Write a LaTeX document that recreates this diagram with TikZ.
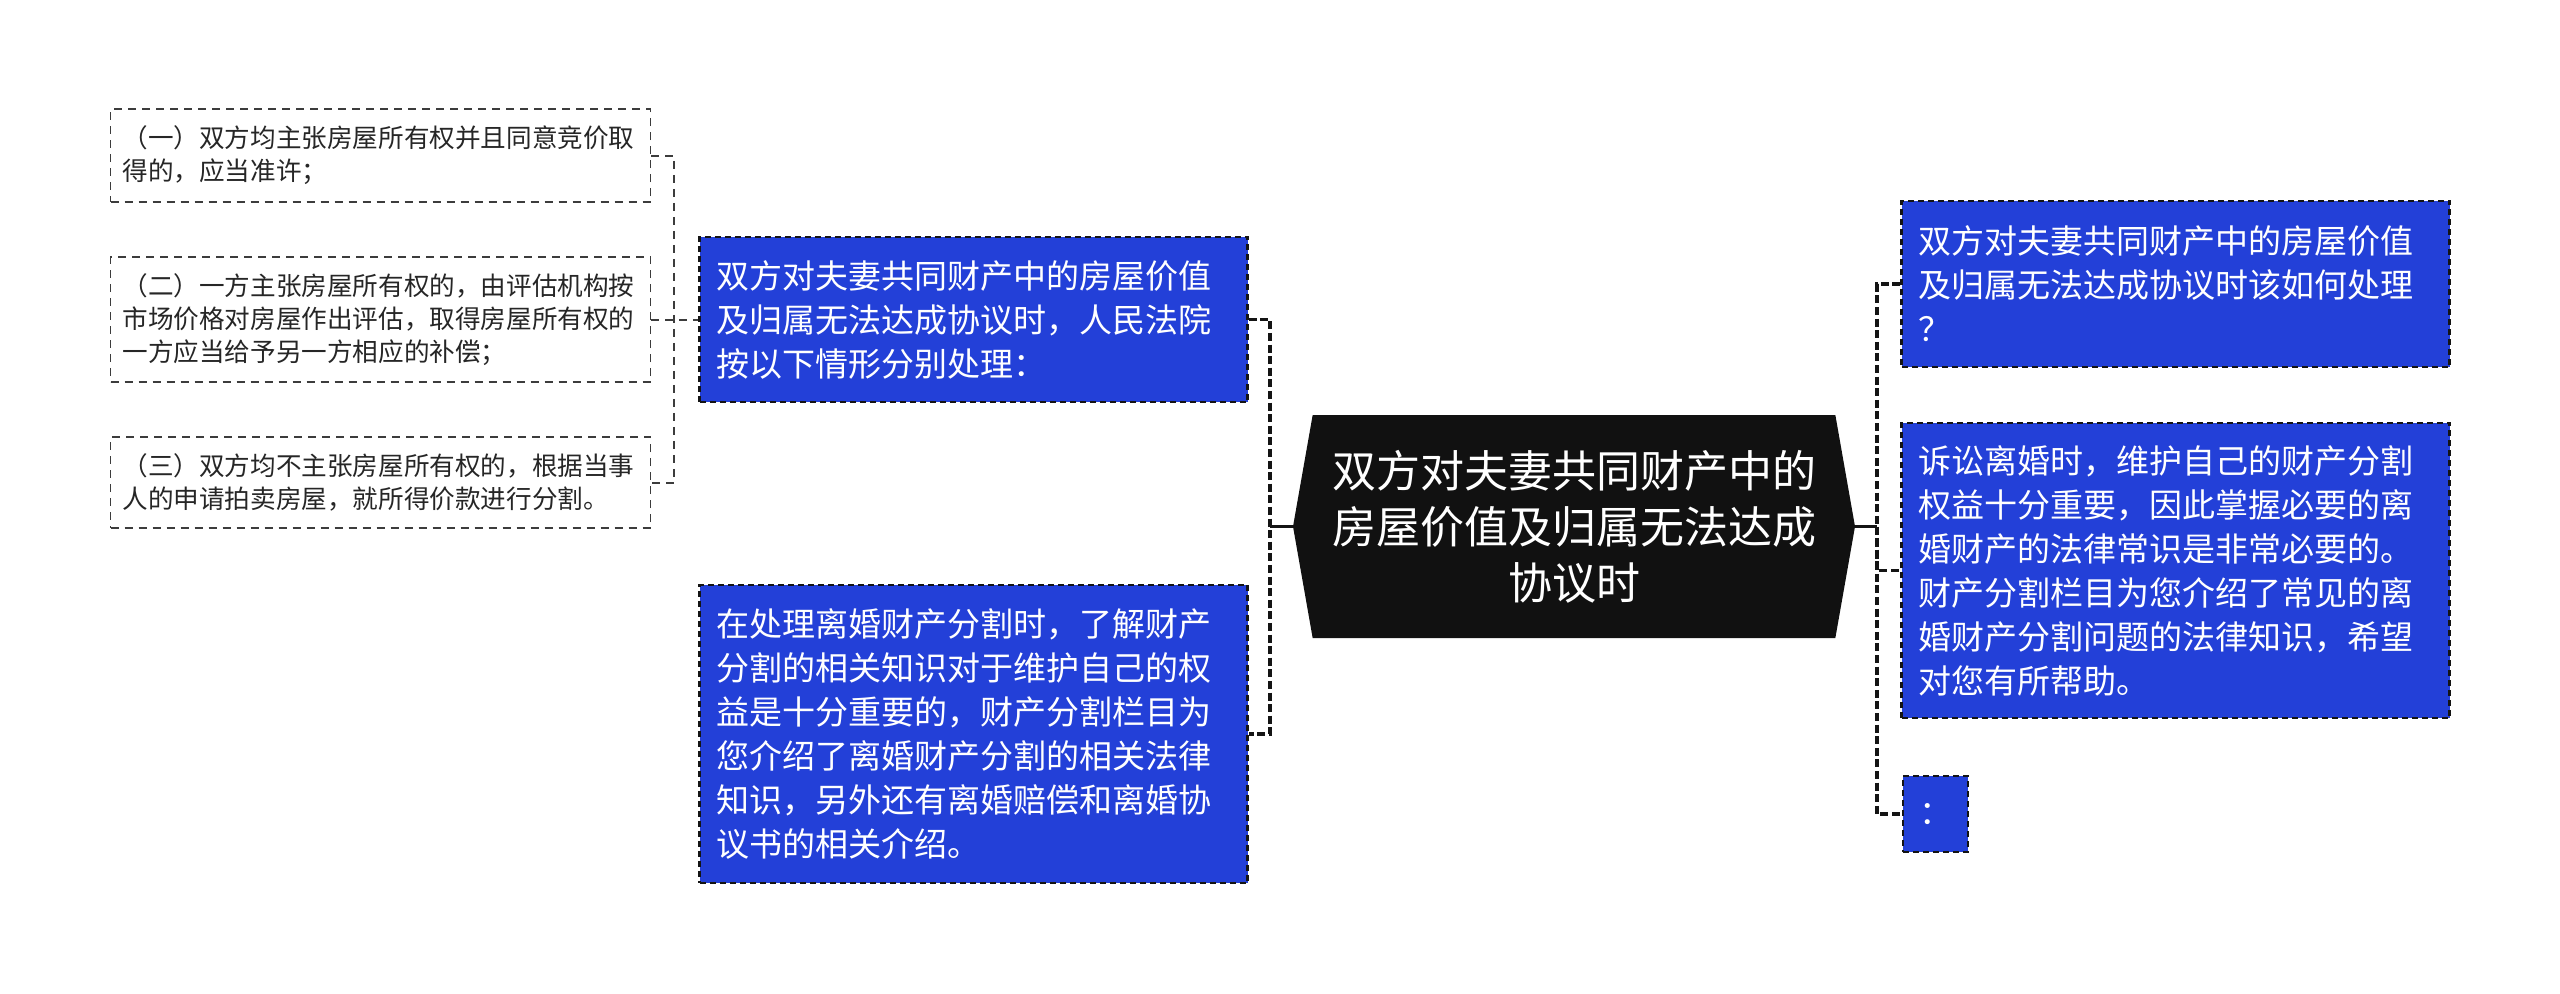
\documentclass[tikz,border=0pt]{standalone}
\usepackage{fontspec}
\newfontfamily\cjk{Noto Sans CJK SC}
\usetikzlibrary{shapes.symbols}
\definecolor{mmblue}{RGB}{35,64,216}
\definecolor{mmroot}{RGB}{17,17,17}
\definecolor{mmedge}{RGB}{20,20,20}
\definecolor{mmleaf}{RGB}{60,60,60}

\begin{document}
\begin{tikzpicture}[
    x=0.5pt, y=-0.5pt,
    root/.style={shape=signal, signal to=east and west, signal pointer angle=160,
      fill=mmroot, text=white, inner sep=0pt, minimum width=281pt, minimum height=111.5pt,
      align=center, font=\cjk\fontsize{22}{28}\selectfont},
    topic/.style={rectangle, fill=mmblue, draw=mmedge, line width=1.1pt, dash pattern=on 3pt off 2pt,
      text=white, text width=257pt, inner xsep=8.5pt, inner ysep=0pt, align=left,
      font=\cjk\fontsize{16.5}{22}\selectfont},
    dot/.style={topic, text width={}, minimum width=32.5pt, minimum height=38pt, inner xsep=8pt},
    leaf/.style={rectangle, fill=white, draw=mmleaf, line width=0.9pt, dash pattern=on 4pt off 3pt,
      text=black!85, text width=258pt, inner xsep=6pt, inner ysep=0pt, align=left,
      font=\cjk\fontsize{12.8}{16.5}\selectfont},
    link/.style={draw=mmedge, line width=1.6pt, dash pattern=on 4pt off 1.8pt},
    leaflink/.style={draw=mmleaf, line width=1pt, dash pattern=on 4pt off 3pt},
    stem/.style={draw=mmedge, line width=1.6pt},
  ]
  \useasboundingbox (0,0) rectangle (2560,993);

  %% ================= centre =================
  \node[root] (root) at (1574,526.5) {双方对夫妻共同财产中的\\房屋价值及归属无法达成\\协议时};

  %% ================= left branch =================
  \node[topic, minimum height=82.5pt] (ruling) at (973.5,319.5)
    {双方对夫妻共同财产中的房屋价值\\及归属无法达成协议时，人民法院\\按以下情形分别处理：};
  \node[topic, minimum height=149pt] (intro) at (973.5,734)
    {在处理离婚财产分割时，了解财产\\分割的相关知识对于维护自己的权\\益是十分重要的，财产分割栏目为\\您介绍了离婚财产分割的相关法律\\知识，另外还有离婚赔偿和离婚协\\议书的相关介绍。};

  \node[leaf, minimum height=46.5pt] (caseA) at (380.5,155.5)
    {（一）双方均主张房屋所有权并且同意竞价取\\得的，应当准许；};
  \node[leaf, minimum height=62.5pt] (caseB) at (380.5,319.5)
    {（二）一方主张房屋所有权的，由评估机构按\\市场价格对房屋作出评估，取得房屋所有权的\\一方应当给予另一方相应的补偿；};
  \node[leaf, minimum height=45.5pt] (caseC) at (380.5,482.5)
    {（三）双方均不主张房屋所有权的，根据当事\\人的申请拍卖房屋，就所得价款进行分割。};

  %% ================= right branch =================
  \node[topic, minimum height=83pt] (question) at (2175.5,284)
    {双方对夫妻共同财产中的房屋价值\\及归属无法达成协议时该如何处理\\？};
  \node[topic, minimum height=147.5pt] (advice) at (2175.5,570.5)
    {诉讼离婚时，维护自己的财产分割\\权益十分重要，因此掌握必要的离\\婚财产的法律常识是非常必要的。\\财产分割栏目为您介绍了常见的离\\婚财产分割问题的法律知识，希望\\对您有所帮助。};
  \node[dot, anchor=west] (colon) at (1902,814) {：};

  %% junctions
  \coordinate (jl) at (1270,526.5);
  \coordinate (jr) at (1877,526.5);
  \coordinate (jleaf) at (674,319.5);

  %% connectors
  \draw[stem] (root.west) -- (jl);
  \draw[link] (ruling.east) -| (jl) |- (intro.east);
  \draw[stem] (root.east) -- (jr);
  \draw[link] (question.west) -| (jr) |- (colon.west);
  \draw[link] (jr) |- (advice.west);
  \draw[leaflink] (caseA.east) -| (jleaf) |- (caseC.east);
  \draw[leaflink] (caseB.east) -- (ruling.west);

\end{tikzpicture}
\end{document}
